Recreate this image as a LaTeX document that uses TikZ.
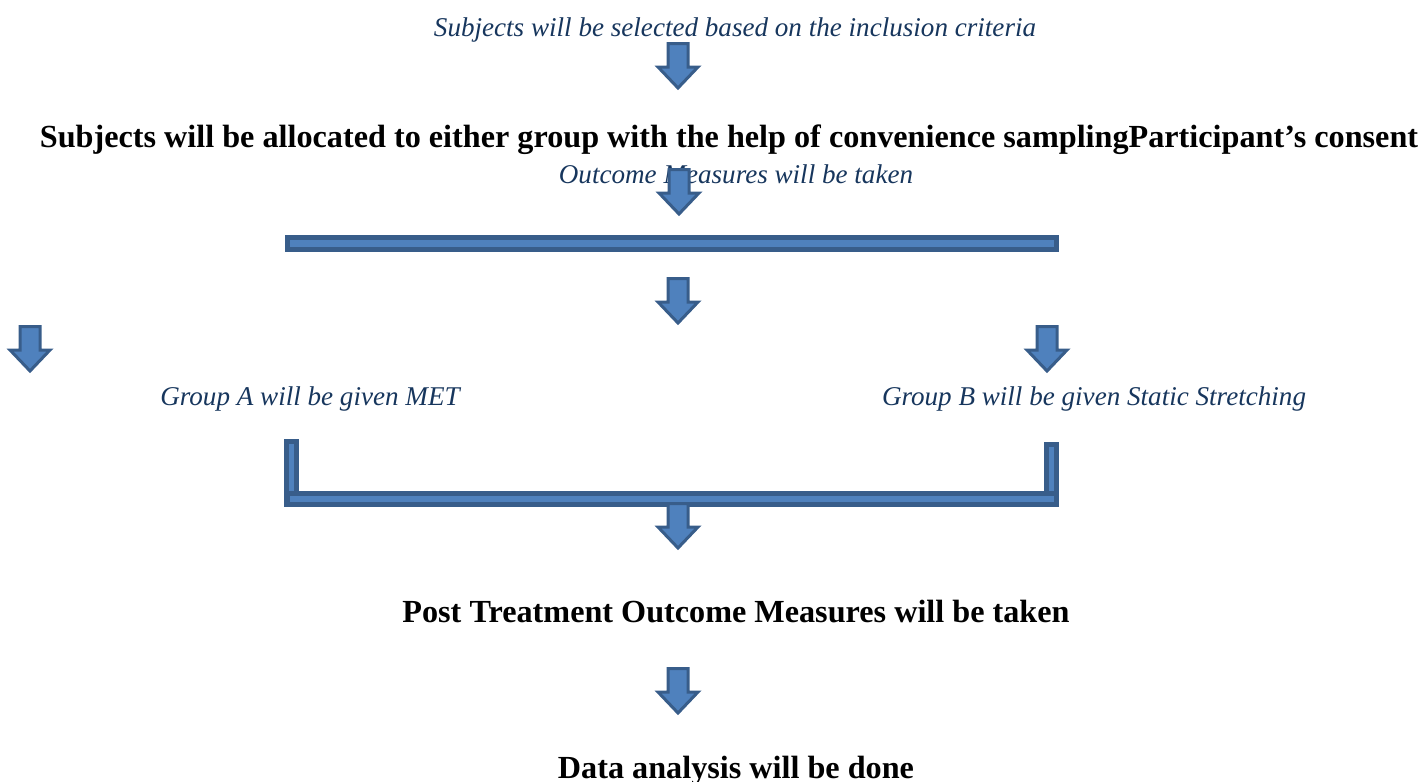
\documentclass[tikz,border=0pt]{standalone}
\usepackage{fontspec}
\setmainfont{Liberation Serif}
\definecolor{arrowblue}{RGB}{79,129,189}
\definecolor{edgeblue}{RGB}{56,93,138}
\definecolor{notenavy}{RGB}{23,54,93}
\tikzset{
  notetext/.style={font=\fontsize{13.55}{16}\selectfont\itshape,text=notenavy,
    anchor=base,inner sep=0pt},
  steptext/.style={font=\fontsize{16.1}{19}\selectfont\bfseries,anchor=base,inner sep=0pt},
  barline/.style={draw=edgeblue,fill=arrowblue,line width=2.5pt},
  downarrow/.pic={
    \draw[draw=edgeblue,fill=arrowblue,line width=1.5pt]
      (-10,1.5) -- (10,1.5) -- (10,25) -- (20,25) -- (0,46) -- (-20,25) -- (-10,25) -- cycle;
  }
}

\begin{document}
\begin{tikzpicture}[x=0.5pt,y=-0.5pt]
  \useasboundingbox (0,0) rectangle (1425,782);
  \node[notetext] (select) at (735,36) {Subjects will be selected based on the inclusion criteria};
  \pic (selectarrow) at (678,42) {downarrow};
  \node[steptext] (allocate) at (729,147)
    {Subjects will be allocated to either group with the help of convenience samplingParticipant’s consent};
  \node[notetext] (pretest) at (736,183) {Outcome Measures will be taken};
  \pic (pretestarrow) at (679,168) {downarrow};
  % split bar
  \draw[barline] (287.5,237.5) rectangle (1056.5,249.5);
  \pic (splitarrow) at (678,277) {downarrow};
  \pic (leftarrow) at (30,325) {downarrow};
  \pic (rightarrow) at (1047,325) {downarrow};
  \node[notetext] (groupA) at (310,405) {Group A will be given MET};
  \node[notetext] (groupB) at (1094,405) {Group B will be given Static Stretching};
  % joining bracket
  \draw[barline] (286.5,441.5) rectangle (296.5,504.5);
  \draw[barline] (1046.5,444.5) rectangle (1056.5,504.5);
  \draw[barline] (287.5,493.5) rectangle (1056.5,504.5);
  \pic (joinarrow) at (678,502) {downarrow};
  \node[steptext] (posttest) at (736,622) {Post Treatment Outcome Measures will be taken};
  \pic (postarrow) at (678,667) {downarrow};
  \node[steptext] (analysis) at (736,778) {Data analysis will be done};
\end{tikzpicture}
\end{document}
